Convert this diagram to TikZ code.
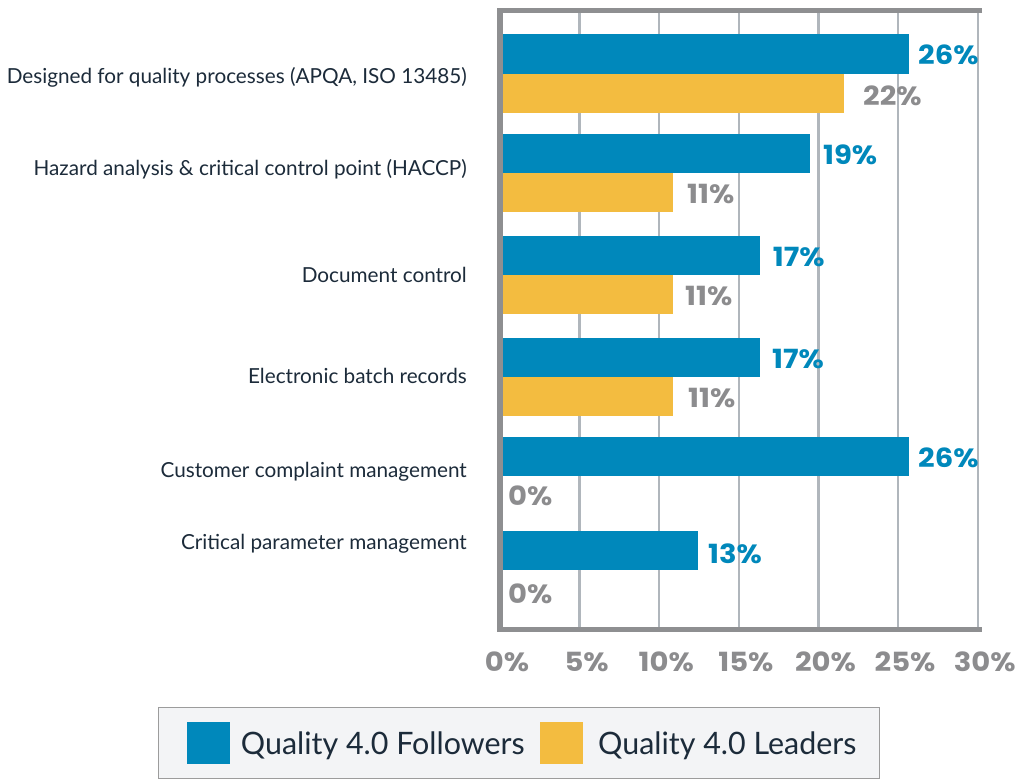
\documentclass[tikz,border=0pt]{standalone}
\usepackage{fontspec}
\setmainfont{Lato}
\newfontfamily\numfont{Poppins}
\definecolor{barblue}{HTML}{0088BB}
\definecolor{baryellow}{HTML}{F3BC40}
\definecolor{numgray}{HTML}{8C8C8E}
\definecolor{framegray}{HTML}{8E8F91}
\definecolor{gridgray}{HTML}{B0B6BC}
\definecolor{labelnavy}{HTML}{1C2B3A}
\definecolor{legfill}{HTML}{F3F4F6}
\definecolor{legdraw}{HTML}{9C9C9C}
\newcommand{\numtext}[1]{\scalebox{1.1}[1]{#1}}
\tikzset{
  gridline/.style={draw=gridgray, line width=2.4bp},
  framestyle/.style={draw=framegray, line width=5.4bp, line join=miter},
  bluebar/.style={fill=barblue},
  yellowbar/.style={fill=baryellow},
  catlabel/.style={anchor=base east, inner sep=0pt, text=labelnavy, font=\fontsize{20.8}{20.8}\selectfont},
  bluenum/.style={anchor=base west, inner sep=0pt, text=barblue, font=\numfont\bfseries\fontsize{26.5}{26.5}\selectfont},
  graynum/.style={anchor=base west, inner sep=0pt, text=numgray, font=\numfont\bfseries\fontsize{26.5}{26.5}\selectfont},
  ticklabel/.style={anchor=base, inner sep=0pt, text=numgray, font=\numfont\bfseries\fontsize{26.5}{26.5}\selectfont},
  legendtext/.style={anchor=base west, inner sep=0pt, text=labelnavy, font=\fontsize{31}{31}\selectfont},
}
\begin{document}
\begin{tikzpicture}[x=1bp,y=-1bp]
\useasboundingbox (0,0) rectangle (1025,779);
\fill[white] (0,0) rectangle (1025,779);

% gridlines
\foreach \i in {1,...,6}{
  \draw[gridline] ({500+\i*79.62},11) -- ({500+\i*79.62},629);
}

% bars
\fill[bluebar]   (500,34.3)  rectangle (909.3,73.6);
\fill[yellowbar] (500,73.6)  rectangle (844.3,113.3);
\fill[bluebar]   (500,134.0) rectangle (810.0,173.0);
\fill[yellowbar] (500,173.0) rectangle (672.7,212.3);
\fill[bluebar]   (500,235.7) rectangle (760.3,275.0);
\fill[yellowbar] (500,275.0) rectangle (672.7,314.3);
\fill[bluebar]   (500,337.7) rectangle (760.3,377.0);
\fill[yellowbar] (500,377.0) rectangle (672.7,416.3);
\fill[bluebar]   (500,436.7) rectangle (909.3,476.0);
\fill[bluebar]   (500,530.7) rectangle (698.3,570.0);

% frame
\draw[framestyle] (982,10.8) -- (500,10.8) -- (500,629.5) -- (982,629.5);

% category labels
\node[catlabel] (c1) at (467,83.5) {Designed for quality processes (APQA, ISO 13485)};
\node[catlabel] (c2) at (467,175) {Hazard analysis \& critical control point (HACCP)};
\node[catlabel] (c3) at (467,282) {Document control};
\node[catlabel] (c4) at (467,383.5) {Electronic batch records};
\node[catlabel] (c5) at (467,477) {Customer complaint management};
\node[catlabel] (c6) at (467,549) {Critical parameter management};

% value labels
\node[bluenum] (f1) at (918,65) {\numtext{26\%}};
\node[graynum] (l1) at (863,105) {\numtext{22\%}};
\node[bluenum] (f2) at (823,164) {\numtext{19\%}};
\node[graynum] (l2) at (687,203.3) {\numtext{11\%}};
\node[bluenum] (f3) at (772.7,266.7) {\numtext{17\%}};
\node[graynum] (l3) at (685,305) {\numtext{11\%}};
\node[bluenum] (f4) at (772,368.3) {\numtext{17\%}};
\node[graynum] (l4) at (688,407) {\numtext{11\%}};
\node[bluenum] (f5) at (918,467) {\numtext{26\%}};
\node[graynum] (l5) at (508,505) {\numtext{0\%}};
\node[bluenum] (f6) at (708,563.3) {\numtext{13\%}};
\node[graynum] (l6) at (508,603) {\numtext{0\%}};

% tick labels
\foreach \v [count=\i from 0] in {0,5,10,15,20,25,30}{
  \node[ticklabel] (t\i) at ({507+\i*79.62},671.5) {\numtext{\v\%}};
}

% legend
\draw[fill=legfill, draw=legdraw, line width=1.5bp] (158.3,707.3) rectangle (879.6,778.3);
\fill[bluebar] (186.7,722.3) rectangle (230,764.3);
\node[legendtext] (lg1) at (240.7,754) {\scalebox{0.985}[1]{Quality 4.0 Followers}};
\fill[yellowbar] (540,722.3) rectangle (582.6,764.3);
\node[legendtext] (lg2) at (598,754) {\scalebox{0.985}[1]{Quality 4.0 Leaders}};
\end{tikzpicture}
\end{document}
